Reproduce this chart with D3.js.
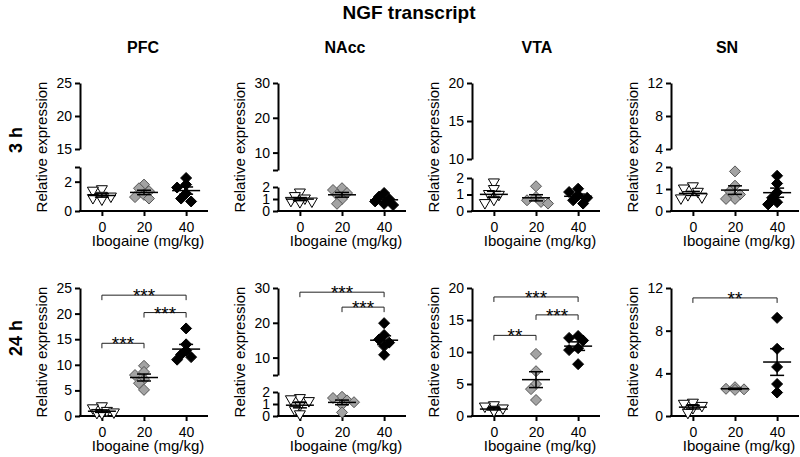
<!DOCTYPE html>
<html>
<head>
<meta charset="utf-8">
<script src="https://cdn.jsdelivr.net/npm/d3@7"></script>
<style>
  body { margin: 0; background: #fff; }
  svg { font-family: "Liberation Sans", Arial, sans-serif; }
</style>
</head>
<body>
<svg id="chart" width="800" height="457"></svg>
<script>
// Categories
const regions = ["PFC", "NAcc", "VTA", "SN"];
const doses = ["0", "20", "40"];
const times = ["3 h", "24 h"];

// Relative expression per animal, groups are [0, 20, 40 mg/kg]
const pfc3h  = [[1.45, 1.35, 1.0, 0.85, 0.75, 0.95], [1.8, 1.55, 1.35, 1.1, 0.85, 0.95], [2.25, 1.8, 1.6, 1.2, 0.85, 0.65]];
const nacc3h = [[1.5, 1.2, 1.0, 0.8, 0.7, 0.75], [1.9, 1.75, 1.5, 1.35, 1.0, 0.6], [1.5, 1.2, 1.0, 0.8, 0.6, 0.5]];
const vta3h  = [[1.7, 1.3, 1.0, 0.95, 0.65, 0.45], [1.5, 0.85, 0.65, 0.55, 0.45], [1.35, 1.15, 0.95, 0.8, 0.65, 0.45]];
const sn3h   = [[1.1, 1.0, 0.85, 0.7, 0.6, 0.55], [1.8, 1.15, 0.9, 0.75, 0.55, 0.55], [1.6, 1.25, 0.85, 0.6, 0.4, 0.3]];
const pfc24h  = [[1.8, 1.4, 0.9, 0.6, 0.5, 0.4], [9.8, 8.6, 8.0, 7.2, 6.4, 5.1], [17.1, 14.0, 12.8, 12.0, 11.5, 11.0]];
const nacc24h = [[1.45, 1.35, 1.2, 0.85, 0.45, 0.1], [1.6, 1.5, 1.3, 1.15, 0.95, 0.3], [19.9, 16.5, 15.2, 14.3, 13.3, 10.8]];
const vta24h  = [[1.6, 1.4, 1.1, 0.9, 0.7, 0.8], [9.7, 7.0, 5.0, 4.2, 2.5], [12.5, 12.2, 11.8, 10.6, 10.3, 8.1]];
const sn24h   = [[1.2, 1.1, 0.9, 0.7, 0.25], [2.7, 2.5, 2.55, 2.45], [9.2, 6.3, 4.6, 3.0, 2.2]];

// Significance brackets: [from dose, to dose, height, stars]
const pfc24hSig  = [["0", "40", 23.6, "***"], ["20", "40", 20.2, "***"], ["0", "20", 14.2, "***"]];
const nacc24hSig = [["0", "40", 28.8, "***"], ["20", "40", 24.5, "***"]];
const vta24hSig  = [["0", "40", 18.6, "***"], ["20", "40", 15.8, "***"], ["0", "20", 12.6, "**"]];
const sn24hSig   = [["0", "40", 11.07, "**"]];

// Y axis segments (broken axes have two), tick values and tick labels
const pfcAxis3h = [{lo: 0, hi: 3, ticks: [0, 2, 3], labels: [0, 2]}, {lo: 15, hi: 25, ticks: [15, 20, 25], labels: [15, 20, 25]}];
const naccAxis  = [{lo: 0, hi: 2, ticks: [0, 1, 2], labels: [0, 1, 2]}, {lo: 5, hi: 30, ticks: [5, 10, 20, 30], labels: [10, 20, 30]}];
const vtaAxis3h = [{lo: 0, hi: 2, ticks: [0, 1, 2], labels: [0, 1, 2]}, {lo: 10, hi: 20, ticks: [10, 15, 20], labels: [10, 15, 20]}];
const snAxis3h  = [{lo: 0, hi: 2, ticks: [0, 1, 2], labels: [0, 1, 2]}, {lo: 4, hi: 12, ticks: [4, 8, 12], labels: [4, 8, 12]}];
const pfcAxis24h = [{lo: 0, hi: 25, ticks: [0, 5, 10, 15, 20, 25], labels: [0, 5, 10, 15, 20, 25]}];
const vtaAxis24h = [{lo: 0, hi: 20, ticks: [0, 5, 10, 15, 20], labels: [0, 5, 10, 15, 20]}];
const snAxis24h  = [{lo: 0, hi: 12, ticks: [0, 4, 8, 12], labels: [0, 4, 8, 12]}];

// Layout
const plotW = 128, plotH = 128;
const colX = [80, 278, 472, 671];          // left axis of each column
const rowBottom = [211, 416];              // x axis of each row
const titleX = [143, 345, 537, 727];
// pixel heights of [lower, gap, upper] for broken axes
const splits = {PFC: [44, 18, 66], NAcc: [24, 17, 87], VTA: [33, 19, 76], SN: [44, 18, 66]};

const panels = [
  {region: "PFC", row: 0, data: pfc3h, axis: pfcAxis3h, sig: []},
  {region: "NAcc", row: 0, data: nacc3h, axis: naccAxis, sig: []},
  {region: "VTA", row: 0, data: vta3h, axis: vtaAxis3h, sig: []},
  {region: "SN", row: 0, data: sn3h, axis: snAxis3h, sig: []},
  {region: "PFC", row: 1, data: pfc24h, axis: pfcAxis24h, sig: pfc24hSig},
  {region: "NAcc", row: 1, data: nacc24h, axis: naccAxis, sig: nacc24hSig},
  {region: "VTA", row: 1, data: vta24h, axis: vtaAxis24h, sig: vta24hSig},
  {region: "SN", row: 1, data: sn24h, axis: snAxis24h, sig: sn24hSig}
];

const svg = d3.select("#chart");

// Main title, column and row titles
svg.append("text")
  .attr("x", 409).attr("y", 19)
  .attr("text-anchor", "middle")
  .style("font-size", "19px").style("font-weight", "bold")
  .text("NGF transcript");

regions.forEach((r, i) => {
  svg.append("text")
    .attr("x", titleX[i]).attr("y", 53)
    .attr("text-anchor", "middle")
    .style("font-size", "16px").style("font-weight", "bold")
    .text(r);
});

const rowLabelY = [140, 338];
times.forEach((t, i) => {
  svg.append("text")
    .attr("transform", `translate(22, ${rowLabelY[i]}) rotate(-90)`)
    .attr("text-anchor", "middle")
    .style("font-size", "18px").style("font-weight", "bold")
    .text(t);
});

// Marker shapes
const triangle = "M-5.5,-4L5.5,-4L0,5.5Z";
const diamond = "M0,-5.5L5.5,0L0,5.5L-5.5,0Z";
const markerFill = ["#fff", "#a3a3a3", "#000"];
const markerStroke = ["#000", "#555", "#000"];

function sem(v) {
  const m = d3.mean(v);
  return Math.sqrt(d3.sum(v, d => (d - m) * (d - m)) / (v.length - 1)) / Math.sqrt(v.length);
}

panels.forEach(p => {
  const x0 = colX[regions.indexOf(p.region)];
  const y0 = rowBottom[p.row];
  const g = svg.append("g").attr("transform", `translate(${x0}, ${y0 - plotH})`);

  // y scales for each segment
  let segs;
  if (p.axis.length === 1) {
    segs = [{...p.axis[0], scale: d3.scaleLinear().domain([p.axis[0].lo, p.axis[0].hi]).range([plotH, 0])}];
  } else {
    const [hl, gap, hu] = splits[p.region];
    segs = [
      {...p.axis[0], scale: d3.scaleLinear().domain([p.axis[0].lo, p.axis[0].hi]).range([plotH, plotH - hl])},
      {...p.axis[1], scale: d3.scaleLinear().domain([p.axis[1].lo, p.axis[1].hi]).range([plotH - hl - gap, 0])}
    ];
  }
  const yv = v => (segs.length === 1 || v <= segs[0].hi ? segs[0].scale(v) : segs[1].scale(v));

  const x = d3.scalePoint().domain(doses).range([0, plotW]).padding(0.52);

  // y axis segments
  segs.forEach(s => {
    const ax = g.append("g")
      .call(d3.axisLeft(s.scale).tickValues(s.ticks)
        .tickFormat(d => (s.labels.includes(d) ? d : ""))
        .tickSize(5).tickSizeOuter(0).tickPadding(3));
    ax.select(".domain").attr("stroke-width", 2);
    ax.selectAll(".tick line").attr("stroke-width", 2);
    ax.selectAll(".tick text").style("font-size", "14px").attr("fill", "#000");
  });

  // x axis
  const xa = g.append("g")
    .attr("transform", `translate(0, ${plotH})`)
    .call(d3.axisBottom(x).tickSize(5).tickSizeOuter(0).tickPadding(6));
  xa.select(".domain").attr("stroke-width", 2).attr("d", `M-1,0H${plotW}`);
  xa.selectAll(".tick line").attr("stroke-width", 2);
  xa.selectAll(".tick text").style("font-size", "14px").attr("fill", "#000");

  // axis titles
  g.append("text")
    .attr("transform", `translate(-33, ${plotH / 2}) rotate(-90)`)
    .attr("text-anchor", "middle")
    .style("font-size", "15px")
    .text("Relative expression");
  g.append("text")
    .attr("x", 68).attr("y", plotH + 35)
    .attr("text-anchor", "middle")
    .style("font-size", "15px")
    .text("Ibogaine (mg/kg)");

  // points, spread sideways where they overlap
  p.data.forEach((vals, gi) => {
    const cx = x(doses[gi]);
    const placed = [];
    const offsets = [0, -5, 5, -9, 9, -12, 12];
    vals.slice().sort((a, b) => b - a).forEach(v => {
      const py = yv(v);
      let px = cx;
      for (const o of offsets) {
        if (placed.every(q => Math.hypot(q[0] - (cx + o), q[1] - py) >= 6)) { px = cx + o; break; }
      }
      placed.push([px, py]);
    });
    g.append("g").selectAll("path")
      .data(placed)
      .join("path")
      .attr("d", gi === 0 ? triangle : diamond)
      .attr("transform", d => `translate(${d[0]}, ${d[1]})`)
      .attr("fill", markerFill[gi])
      .attr("stroke", markerStroke[gi])
      .attr("stroke-width", 1);

    // mean and SEM
    const m = d3.mean(vals), e = sem(vals);
    const lines = g.append("g").attr("stroke", "#000").attr("stroke-width", 1.5);
    lines.append("line").attr("x1", cx - 14).attr("x2", cx + 14).attr("y1", yv(m)).attr("y2", yv(m));
    lines.append("line").attr("x1", cx).attr("x2", cx).attr("y1", yv(m - e)).attr("y2", yv(m + e));
    lines.append("line").attr("x1", cx - 7).attr("x2", cx + 7).attr("y1", yv(m - e)).attr("y2", yv(m - e));
    lines.append("line").attr("x1", cx - 7).attr("x2", cx + 7).attr("y1", yv(m + e)).attr("y2", yv(m + e));
  });

  // significance brackets
  p.sig.forEach(s => {
    const xa1 = x(s[0]), xa2 = x(s[1]), by = yv(s[2]);
    g.append("path")
      .attr("d", `M${xa1},${by + 5}V${by}H${xa2}V${by + 5}`)
      .attr("fill", "none").attr("stroke", "#222").attr("stroke-width", 1);
    g.append("text")
      .attr("x", (xa1 + xa2) / 2).attr("y", by + 7)
      .attr("text-anchor", "middle")
      .attr("fill", "#000")
      .style("font-size", "19px")
      .text(s[3]);
  });
});
</script>
</body>
</html>
